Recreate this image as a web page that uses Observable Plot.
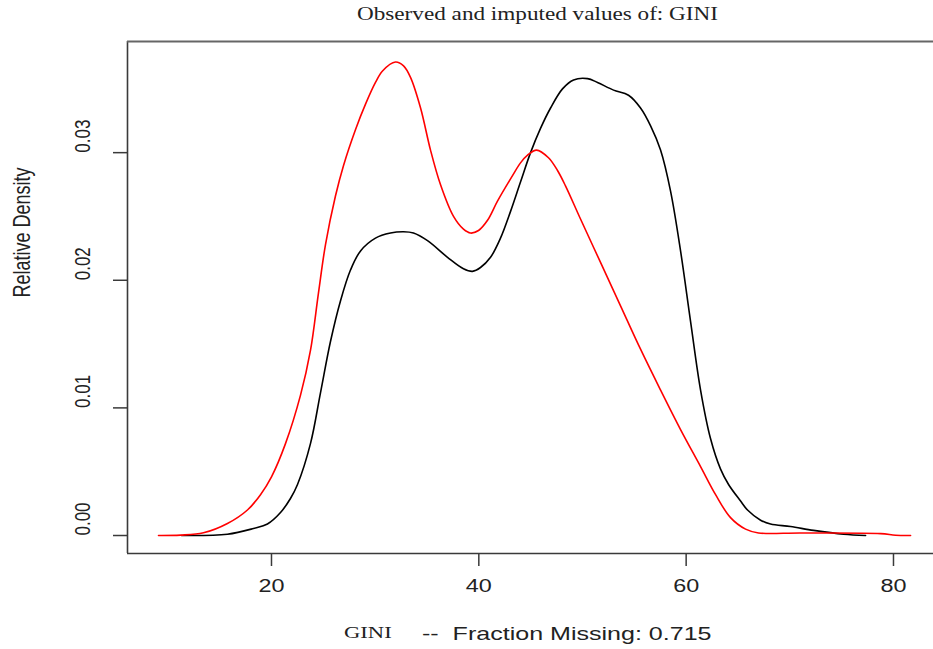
<!DOCTYPE html>
<html>
<head>
<meta charset="utf-8">
<script src="https://cdn.jsdelivr.net/npm/d3@7"></script>
<script src="https://cdn.jsdelivr.net/npm/@observablehq/plot@0.6"></script>
<style>
  html, body { margin: 0; padding: 0; background: #fff; }
  #wrap { position: relative; width: 933px; height: 649px; overflow: hidden; background: #fff; }
  .txt { position: absolute; white-space: pre; line-height: 1; color: #222; transform-origin: 0 50%; }
  .serif { font-family: "Liberation Serif", "DejaVu Serif", serif; }
  .sans { font-family: "Liberation Sans", Arial, sans-serif; }
  #chart { position: absolute; left: 0; top: 28px; }
</style>
</head>
<body>
<div id="wrap">
  <span id="title" class="txt serif" style="font-size:19px;">Observed and imputed values of: GINI</span>
  <div id="chart"></div>
  <span id="capA" class="txt serif" style="font-size:16px;">GINI</span>
  <span id="capB" class="txt sans" style="font-size:19px;">--  Fraction Missing: 0.715</span>
</div>
<script>
// Observed (black) density curve
const observedGini = [11.32, 15.75, 18.26, 19.61, 20.87, 21.83, 22.51, 23.76, 24.73, 25.69, 26.66, 27.62, 28.59, 30.03, 31.48, 32.74, 33.70, 35.05, 36.98, 38.52, 39.39, 40.16, 41.13, 42.09, 43.06, 44.02, 44.99, 45.95, 46.92, 48.07, 49.14, 50.49, 51.45, 53.00, 54.44, 55.60, 56.57, 57.53, 58.49, 59.46, 60.42, 61.39, 62.35, 63.32, 64.09, 65.25, 65.92, 67.18, 68.14, 70.07, 72.29, 75.19, 77.31];
const observedDensity = [0, 0.0001, 0.00055, 0.0009, 0.0018, 0.0029, 0.0040, 0.0072, 0.0112, 0.0152, 0.0184, 0.0208, 0.0223, 0.0233, 0.0237, 0.0238, 0.0237, 0.0231, 0.0218, 0.0209, 0.0207, 0.0210, 0.0218, 0.0233, 0.0254, 0.0277, 0.0300, 0.0319, 0.0335, 0.0350, 0.0357, 0.0358, 0.0355, 0.0349, 0.0345, 0.0335, 0.0321, 0.0302, 0.0270, 0.0223, 0.0168, 0.0114, 0.0076, 0.0052, 0.0040, 0.0027, 0.0020, 0.0012, 0.0009, 0.0007, 0.0004, 0.0001, 0];

// Imputed (red) density curve
const imputedGini = [9.10, 11.22, 13.44, 15.75, 17.68, 18.94, 20.00, 21.35, 22.80, 23.76, 24.53, 25.21, 26.17, 26.95, 28.10, 29.07, 30.03, 30.71, 31.96, 32.74, 33.41, 34.38, 35.34, 36.30, 37.56, 38.52, 39.20, 39.97, 40.84, 41.80, 43.25, 44.02, 44.70, 45.57, 46.72, 47.59, 48.36, 49.81, 51.74, 53.67, 55.60, 57.53, 59.46, 61.39, 62.84, 64.28, 65.73, 66.98, 71.04, 78.76, 80.20, 81.65];
const imputedDensity = [0, 0.00003, 0.00021, 0.00094, 0.0020, 0.0032, 0.0046, 0.0072, 0.0110, 0.0145, 0.0190, 0.0228, 0.0266, 0.0290, 0.0318, 0.0338, 0.0355, 0.0364, 0.0371, 0.0368, 0.0359, 0.0335, 0.0302, 0.0275, 0.0250, 0.0240, 0.0237, 0.0239, 0.0247, 0.0262, 0.0282, 0.0292, 0.0298, 0.0302, 0.0296, 0.0286, 0.0274, 0.0248, 0.0214, 0.0180, 0.0146, 0.0114, 0.0083, 0.0054, 0.0032, 0.0014, 0.0005, 0.0002, 0.0002, 0.00015, 0.00002, 0];

// Axis ticks
const xTicks = [20, 40, 60, 80];
const yTicks = [0, 0.01, 0.02, 0.03];
const yTickLabels = ["0.00", "0.01", "0.02", "0.03"];

const xDomain = [6.11, 83.86];
const yDomain = [-0.00141, 0.03871];

const observed = observedGini.map((g, i) => ({gini: g, density: observedDensity[i]}));
const imputed = imputedGini.map((g, i) => ({gini: g, density: imputedDensity[i]}));
const yLab = yTicks.map((v, i) => ({v, label: yTickLabels[i]}));

const frameColor = "#3a3a3a";

const chart = Plot.plot({
  width: 933,
  height: 593,
  marginLeft: 127,
  marginRight: 0,
  marginTop: 13,
  marginBottom: 68,
  style: {fontFamily: "'Liberation Sans', Arial, sans-serif", color: "#222", background: "white", overflow: "visible"},
  x: {domain: xDomain},
  y: {domain: yDomain},
  marks: [
    Plot.axisX(xTicks, {tickSize: 13, tickPadding: 13, fontSize: 18, stroke: frameColor, strokeWidth: 1.5, label: null}),
    Plot.axisY(yTicks, {tickSize: 14, fill: "none", stroke: frameColor, strokeWidth: 1.5, label: null}),
    Plot.text(yLab, {y: "v", text: "label", frameAnchor: "left", dx: -45, rotate: -90, fontSize: 17, fill: "#222"}),
    Plot.text(["Relative Density"], {text: d => d, frameAnchor: "left", dx: -105, rotate: -90, fontSize: 18, fill: "#222"}),
    Plot.ruleX([xDomain[0]], {stroke: frameColor, strokeWidth: 1.6}),
    Plot.ruleY([yDomain[0]], {stroke: frameColor, strokeWidth: 1.6}),
    Plot.ruleY([yDomain[1]], {stroke: "#666", strokeWidth: 2}),
    Plot.line(observed, {x: "gini", y: "density", stroke: "black", strokeWidth: 1.6, curve: "catmull-rom"}),
    Plot.line(imputed, {x: "gini", y: "density", stroke: "#ff0000", strokeWidth: 1.6, curve: "catmull-rom"})
  ]
});
document.getElementById("chart").appendChild(chart);

// Stretch x tick labels horizontally to match the reference's wide glyphs
chart.querySelectorAll('g[aria-label="x-axis tick label"] text').forEach(t => {
  const w = t.getComputedTextLength();
  t.setAttribute("textLength", (w * 1.3).toFixed(1));
  t.setAttribute("lengthAdjust", "spacingAndGlyphs");
});
// Thicken rotated labels (screen-horizontal stretch = local y stretch)
chart.querySelectorAll('g[aria-label="text"] text').forEach(t => {
  const tr = t.getAttribute("transform");
  if (tr && tr.includes("rotate")) t.setAttribute("transform", tr + " scale(1,1.3)");
});
const gTexts = chart.querySelectorAll('g[aria-label="text"]');
gTexts.forEach(g => {
  const tr = g.getAttribute("transform");
  if (tr && tr.includes("rotate") && !g.querySelector("text[transform]")) g.setAttribute("transform", tr + " scale(1,1.3)");
});

function place(id, left, top, width) {
  const el = document.getElementById(id);
  const w = el.offsetWidth;
  el.style.left = left + "px";
  el.style.top = top + "px";
  el.style.transform = "scaleX(" + (width / w) + ")";
}
place("title", 357, 4, 361);
place("capA", 344, 625, 48);
place("capB", 422, 624, 290);
</script>
</body>
</html>
